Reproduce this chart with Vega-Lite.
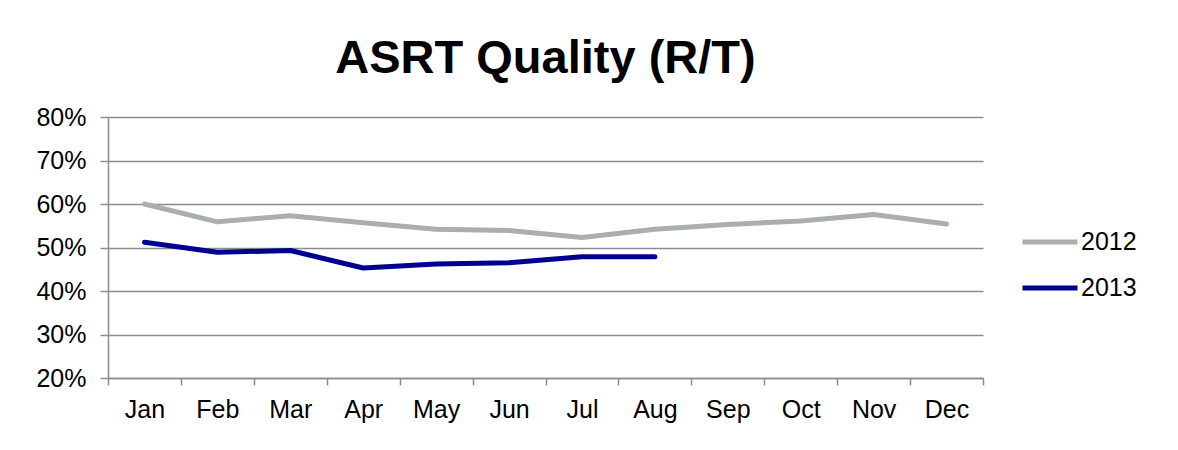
{
  "$schema": "https://vega.github.io/schema/vega-lite/v6.json",
  "autosize": {"type": "none"},
  "width": 875,
  "height": 261,
  "padding": {"left": 108, "top": 117, "right": 195, "bottom": 72},
  "background": "white",
  "title": {
    "text": "ASRT Quality (R/T)",
    "font": "Liberation Sans",
    "fontSize": 47,
    "fontWeight": "bold",
    "color": "#000000",
    "anchor": "middle",
    "offset": 22
  },
  "data": {
    "values": [
      {"month": "Jan", "year": "2012", "value": 0.600},
      {"month": "Feb", "year": "2012", "value": 0.559},
      {"month": "Mar", "year": "2012", "value": 0.573},
      {"month": "Apr", "year": "2012", "value": 0.557},
      {"month": "May", "year": "2012", "value": 0.542},
      {"month": "Jun", "year": "2012", "value": 0.539},
      {"month": "Jul", "year": "2012", "value": 0.523},
      {"month": "Aug", "year": "2012", "value": 0.542},
      {"month": "Sep", "year": "2012", "value": 0.553},
      {"month": "Oct", "year": "2012", "value": 0.561},
      {"month": "Nov", "year": "2012", "value": 0.576},
      {"month": "Dec", "year": "2012", "value": 0.554},
      {"month": "Jan", "year": "2013", "value": 0.512},
      {"month": "Feb", "year": "2013", "value": 0.489},
      {"month": "Mar", "year": "2013", "value": 0.493},
      {"month": "Apr", "year": "2013", "value": 0.453},
      {"month": "May", "year": "2013", "value": 0.462},
      {"month": "Jun", "year": "2013", "value": 0.465},
      {"month": "Jul", "year": "2013", "value": 0.479},
      {"month": "Aug", "year": "2013", "value": 0.479}
    ]
  },
  "mark": {"type": "line", "strokeWidth": 5, "strokeCap": "round", "strokeJoin": "round"},
  "encoding": {
    "x": {
      "field": "month",
      "type": "ordinal",
      "sort": ["Jan", "Feb", "Mar", "Apr", "May", "Jun", "Jul", "Aug", "Sep", "Oct", "Nov", "Dec"],
      "bandPosition": 0.5,
      "scale": {"type": "band", "paddingInner": 0, "paddingOuter": 0},
      "axis": {
        "title": null,
        "grid": false,
        "tickBand": "extent",
        "labelAngle": 0,
        "labelFont": "Liberation Sans",
        "labelFontSize": 25,
        "labelColor": "#000000",
        "labelPadding": 12,
        "tickSize": 7,
        "tickColor": "#8c8c8c",
        "domainColor": "#8c8c8c",
        "domainWidth": 1.5,
        "tickWidth": 1.5
      }
    },
    "y": {
      "field": "value",
      "type": "quantitative",
      "scale": {"domain": [0.2, 0.8], "nice": false, "zero": false},
      "axis": {
        "title": null,
        "format": ".0%",
        "values": [0.2, 0.3, 0.4, 0.5, 0.6, 0.7, 0.8],
        "grid": true,
        "gridColor": "#8c8c8c",
        "gridWidth": 1.5,
        "labelFont": "Liberation Sans",
        "labelFontSize": 25,
        "labelColor": "#000000",
        "labelPadding": 14,
        "tickSize": 8,
        "tickColor": "#8c8c8c",
        "tickWidth": 1.5,
        "domainColor": "#8c8c8c",
        "domainWidth": 1.5
      }
    },
    "color": {
      "field": "year",
      "type": "nominal",
      "scale": {"domain": ["2012", "2013"], "range": ["#a9aeae", "#000090"]},
      "legend": {
        "title": null,
        "orient": "none",
        "legendX": 912,
        "legendY": 95,
        "symbolType": "stroke",
        "symbolSize": 3025,
        "symbolStrokeWidth": 5,
        "labelFont": "Liberation Sans",
        "labelFontSize": 25,
        "labelColor": "#000000",
        "labelOffset": 1,
        "rowPadding": 3
      }
    }
  },
  "config": {"view": {"stroke": null}}
}
